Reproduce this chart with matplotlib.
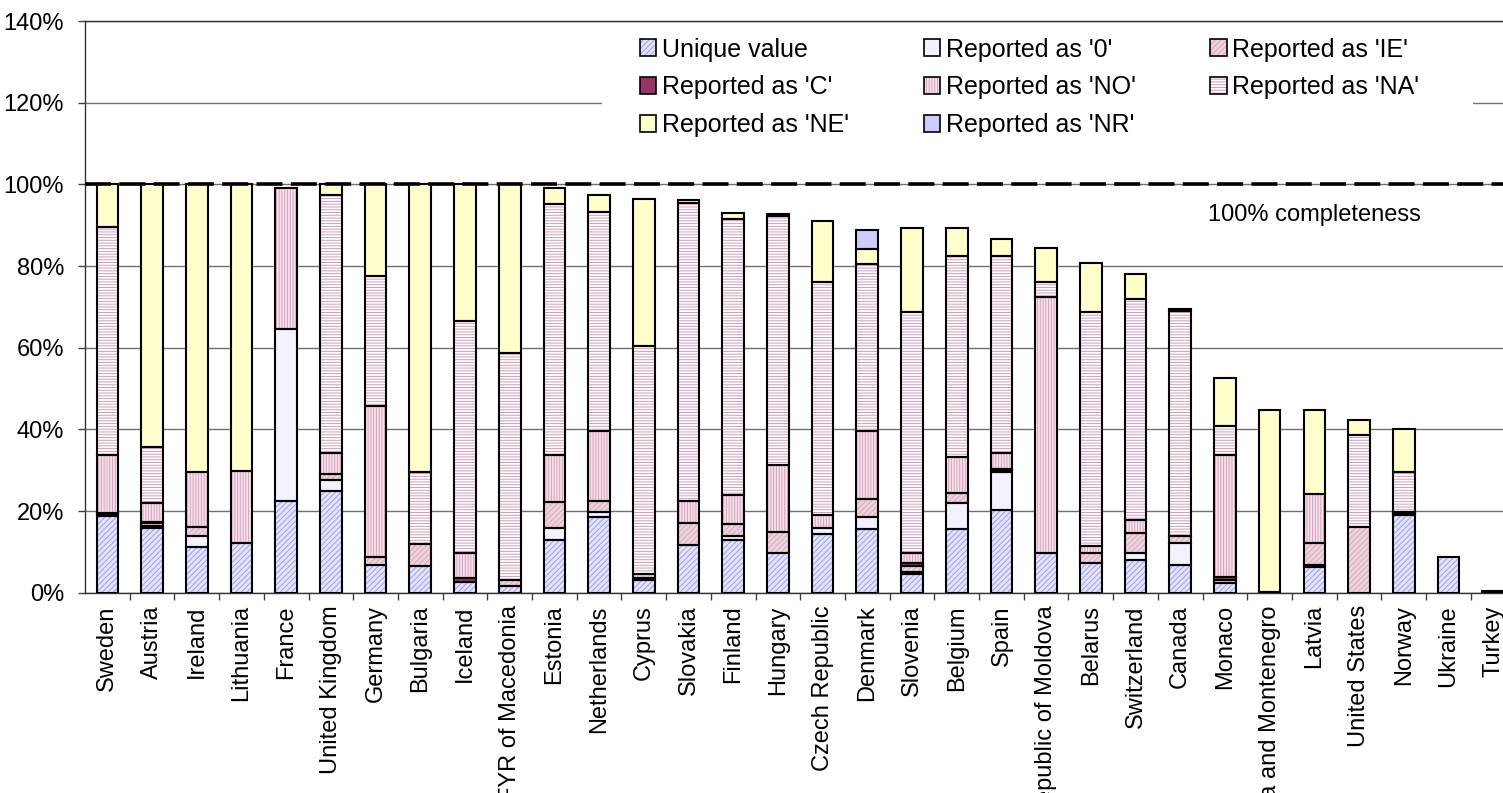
import numpy as np
import matplotlib
matplotlib.use("Agg")
import matplotlib.pyplot as plt
from matplotlib.patches import Patch, Rectangle
from matplotlib.legend_handler import HandlerTuple
from matplotlib.ticker import FixedLocator, PercentFormatter

plt.rcParams['font.family'] = ['Liberation Sans', 'DejaVu Sans']
plt.rcParams['hatch.linewidth'] = 0.7

# data (percent of total)
countries = ["Sweden", "Austria", "Ireland", "Lithuania", "France", "United Kingdom",
             "Germany", "Bulgaria", "Iceland", "FYR of Macedonia", "Estonia", "Netherlands",
             "Cyprus", "Slovakia", "Finland", "Hungary", "Czech Republic", "Denmark",
             "Slovenia", "Belgium", "Spain", "Republic of Moldova", "Belarus", "Switzerland",
             "Canada", "Monaco", "Serbia and Montenegro", "Latvia", "United States",
             "Norway", "Ukraine", "Turkey"]

unique = [18.8, 15.8, 11.3, 12.2, 22.4, 25.0, 6.9, 6.5, 2.7, 1.7, 12.9, 18.6, 3.1, 11.7, 12.9, 9.6,
          14.3, 15.5, 4.7, 15.5, 20.2, 9.8, 7.3, 8.0, 6.8, 2.3, 0.2, 6.2, 0, 19.0, 8.8, 0.4]
rep_0 = [0, 0.6, 2.6, 0, 42.1, 2.6, 0, 0, 0, 0, 2.9, 1.1, 0, 0, 1.1, 0,
         1.6, 3.1, 0.3, 6.5, 9.4, 0, 0, 1.6, 5.3, 0, 0, 0.5, 0, 0, 0, 0]
rep_ie = [0.4, 0.6, 2.3, 0, 0, 1.5, 1.9, 5.4, 0, 1.4, 6.5, 2.7, 0, 5.4, 2.8, 5.3,
          0, 4.3, 1.6, 2.5, 0.4, 0, 2.3, 4.9, 1.8, 0.7, 0, 5.4, 16.2, 0.2, 0, 0]
rep_c = [0.4, 0.4, 0, 0, 0, 0, 0, 0, 0.8, 0, 0, 0, 0.4, 0, 0, 0,
         0, 0, 0.6, 0, 0.3, 0, 0, 0, 0, 0.8, 0, 0, 0, 0.6, 0, 0]
rep_no = [14.0, 4.6, 13.4, 17.7, 34.5, 5.0, 36.8, 0, 6.3, 0, 11.3, 17.2, 1.2, 5.3, 7.1, 16.4,
          3.1, 16.7, 2.4, 8.8, 3.8, 62.7, 1.9, 3.3, 0, 29.9, 0, 12.1, 0, 0, 0, 0]
rep_na = [55.9, 13.6, 0, 0, 0, 63.2, 32.0, 17.7, 56.8, 55.7, 61.7, 53.7, 55.7, 73.1, 67.7, 61.0,
          57.2, 40.8, 59.1, 49.1, 48.3, 3.5, 57.2, 54.1, 55.2, 7.0, 0, 0, 22.4, 9.8, 0, 0]
rep_ne = [10.5, 64.4, 70.4, 70.1, 0, 2.7, 22.4, 70.4, 33.4, 41.2, 3.7, 4.1, 36.0, 0.7, 1.5, 0.4,
          14.8, 3.8, 20.7, 6.8, 4.1, 8.3, 12.1, 6.1, 0.3, 11.8, 44.5, 20.5, 3.8, 10.4, 0, 0]
rep_nr = [0, 0, 0, 0, 0, 0, 0, 0, 0, 0, 0, 0, 0, 0, 0, 0,
          0, 4.6, 0, 0, 0, 0, 0, 0, 0, 0, 0, 0, 0, 0, 0, 0]

series = [
    ("Unique value", unique, "#E4E4FF", "#9C9CF0", "//////"),
    ("Reported as '0'", rep_0, "#F2F2FF", "#F2F2FF", None),
    ("Reported as 'IE'", rep_ie, "#EDD3DD", "#D8A8BC", "//////"),
    ("Reported as 'C'", rep_c, "#993366", "#993366", None),
    ("Reported as 'NO'", rep_no, "#F6E0EA", "#D6A2BE", "||||||"),
    ("Reported as 'NA'", rep_na, "#FFFFFF", "#D09CB8", "------"),
    ("Reported as 'NE'", rep_ne, "#FFFFCC", "#FFFFCC", None),
    ("Reported as 'NR'", rep_nr, "#CCCCFF", "#CCCCFF", None),
]

fig = plt.figure(figsize=(15.03, 7.93), dpi=100)
ax = fig.add_axes([85 / 1503, 200.3 / 793, 1418 / 1503, 571.7 / 793])

x = np.arange(len(countries))
width = 0.485
bottom = np.zeros(len(countries))
handles = {}
for name, vals, fc, hc, hatch in series:
    v = np.array(vals) / 100.0
    m = v > 0
    ax.bar(x[m], v[m], width, bottom=bottom[m], color=fc, edgecolor=hc,
           hatch=hatch, linewidth=0, zorder=3)
    ax.bar(x[m], v[m], width, bottom=bottom[m], facecolor="none",
           edgecolor="black", linewidth=1.5, zorder=4)
    bottom += v
    handles[name] = (Patch(facecolor=fc, edgecolor=hc, hatch=hatch, linewidth=0),
                     Patch(facecolor="none", edgecolor="black", linewidth=1.2))

# 100% line
ax.axhline(1.0, color="black", lw=2.6, dashes=(7.2, 2.3), zorder=5)
ax.text(27.0, 0.925, "100% completeness", ha="center", va="center", fontsize=17)

ax.set_ylim(0, 1.4)
ax.set_xlim(-0.5, 31.22)
ax.set_yticks(np.arange(0, 1.41, 0.2))
ax.yaxis.set_major_formatter(PercentFormatter(1.0, decimals=0))
ax.grid(axis="y", color="#707070", lw=1.0, zorder=0)
ax.set_axisbelow(True)

# white block behind the legend hides the 120% gridline there
ax.add_patch(Rectangle((0.3646, 1.08), 0.6142, 0.30, transform=ax.get_yaxis_transform(),
                       facecolor="white", edgecolor="none", zorder=1))

ax.set_xticks(x)
ax.set_xticklabels(countries, rotation=90, fontsize=17, va="top", ha="center")
ax.xaxis.set_minor_locator(FixedLocator(x[:-1] + 0.5))
ax.tick_params(axis="x", which="major", length=0, pad=9)
ax.tick_params(axis="x", which="minor", length=5, width=1, color="#404040")
ax.tick_params(axis="y", labelsize=17, length=5, width=1, pad=10, color="#404040")

for s in ["left", "bottom", "top"]:
    ax.spines[s].set_color("#333333")
    ax.spines[s].set_linewidth(1.0)
ax.spines["right"].set_visible(False)

order = ["Unique value", "Reported as 'C'", "Reported as 'NE'",
         "Reported as '0'", "Reported as 'NO'", "Reported as 'NR'",
         "Reported as 'IE'", "Reported as 'NA'"]
leg = ax.legend([handles[k] for k in order], order, ncol=3, loc="upper left",
                bbox_to_anchor=(0.3914, 0.971), borderaxespad=0, borderpad=0, fontsize=18,
                handler_map={tuple: HandlerTuple(ndivide=1, pad=0)},
                handlelength=0.65, handleheight=0.65, handletextpad=0.22,
                columnspacing=3.0, labelspacing=0.55, frameon=False)
leg.set_zorder(6)

fig.savefig("out.png", dpi=100)
